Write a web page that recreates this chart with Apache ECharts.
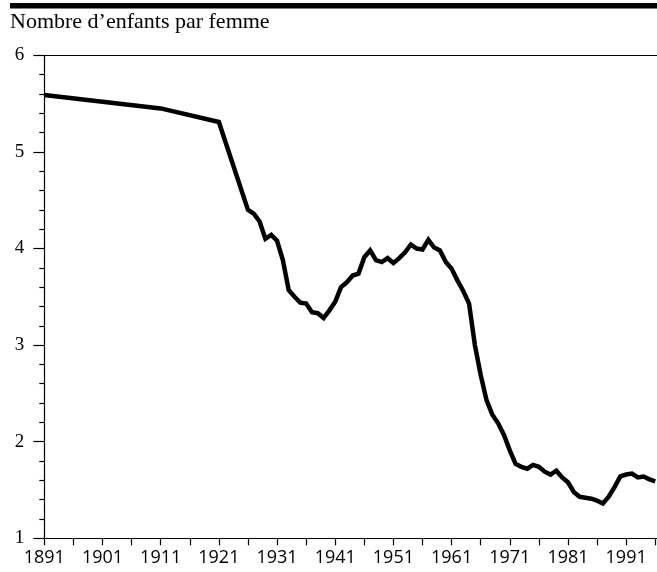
<!DOCTYPE html>
<html>
<head>
<meta charset="utf-8">
<script src="https://cdn.jsdelivr.net/npm/echarts@6/dist/echarts.min.js"></script>
<style>
html,body{margin:0;padding:0;background:#fff;}
#chart{width:657px;height:572px;}
</style>
</head>
<body>
<div id="chart"></div>
<script>
// Data: total fertility rate (children per woman)
const years = [1891, 1901, 1911, 1921, 1926, 1927, 1928, 1929, 1930, 1931, 1932, 1933, 1934, 1935, 1936, 1937, 1938, 1939, 1940,
  1941, 1942, 1943, 1944, 1945, 1946, 1947, 1948, 1949, 1950, 1951, 1952, 1953, 1954, 1955, 1956, 1957, 1958, 1959, 1960,
  1961, 1962, 1963, 1964, 1965, 1966, 1967, 1968, 1969, 1970, 1971, 1972, 1973, 1974, 1975, 1976, 1977, 1978, 1979, 1980,
  1981, 1982, 1983, 1984, 1985, 1986, 1987, 1988, 1989, 1990, 1991, 1992, 1993, 1994, 1995, 1996];
const values = [5.59, 5.52, 5.45, 5.31, 4.40, 4.36, 4.28, 4.10, 4.14, 4.08, 3.88, 3.57, 3.50, 3.44, 3.43, 3.34, 3.33, 3.28, 3.36,
  3.45, 3.60, 3.65, 3.72, 3.74, 3.91, 3.98, 3.88, 3.86, 3.90, 3.85, 3.90, 3.96, 4.04, 4.00, 3.99, 4.09, 4.01, 3.98, 3.86,
  3.79, 3.67, 3.56, 3.43, 3.00, 2.69, 2.43, 2.28, 2.19, 2.07, 1.91, 1.77, 1.74, 1.72, 1.76, 1.74, 1.69, 1.66, 1.70, 1.63,
  1.58, 1.48, 1.43, 1.42, 1.41, 1.39, 1.36, 1.43, 1.53, 1.64, 1.66, 1.67, 1.63, 1.64, 1.61, 1.59];
const xTickYears = [1891, 1896, 1901, 1906, 1911, 1916, 1921, 1926, 1931, 1936, 1941, 1946, 1951, 1956, 1961, 1966, 1971, 1976, 1981, 1986, 1991, 1996];
const xLabelYears = [1891, 1901, 1911, 1921, 1931, 1941, 1951, 1961, 1971, 1981, 1991];
const yTicks = [1, 2, 3, 4, 5, 6];
const title = "Nombre d\u2019enfants par femme";

const chart = echarts.init(document.getElementById('chart'), null, {renderer: 'canvas'});
const seriesData = years.map((y, i) => [y, values[i]]);

chart.setOption({
  animation: false,
  backgroundColor: '#fff',
  graphic: [
    {type: 'rect', left: 10, top: 3, shape: {width: 647, height: 5.5}, style: {fill: '#000'}},
    {type: 'text', left: 10, top: 11, style: {text: title, font: '22px "Liberation Serif"', fill: '#000'}}
  ],
  grid: {left: 44.3, right: 0, top: 55.3, bottom: 33.7, containLabel: false},
  xAxis: [{
    type: 'value', min: 1891, max: 1996.3, position: 'bottom',
    axisLine: {show: true, lineStyle: {color: '#000', width: 1.2}},
    axisTick: {show: true, length: 7, customValues: xTickYears, lineStyle: {color: '#000', width: 1.2}},
    axisLabel: {show: true, customValues: xLabelYears, margin: 11, color: '#000', fontFamily: 'Open Sans', fontSize: 18,
      formatter: v => String(v)},
    splitLine: {show: false}
  }, {
    type: 'value', min: 1891, max: 1996.3, position: 'top',
    axisLine: {show: true, onZero: false, lineStyle: {color: '#000', width: 1.2}},
    axisTick: {show: false}, axisLabel: {show: false}, splitLine: {show: false}
  }],
  yAxis: {
    type: 'value', min: yTicks[0], max: yTicks[yTicks.length - 1], interval: 1,
    axisLine: {show: true, lineStyle: {color: '#000', width: 1.2}},
    axisTick: {show: true, length: 11, lineStyle: {color: '#000', width: 1.2}},
    minorTick: {show: true, splitNumber: 5, length: 5, lineStyle: {color: '#000', width: 1.2}},
    axisLabel: {margin: 20, color: '#000', fontFamily: 'Liberation Serif', fontSize: 19},
    splitLine: {show: false}
  },
  series: [{
    type: 'line', data: seriesData, showSymbol: false, symbol: 'none',
    lineStyle: {color: '#000', width: 4.5, join: 'miter'},
    xAxisIndex: 0
  }]
});
</script>
</body>
</html>
